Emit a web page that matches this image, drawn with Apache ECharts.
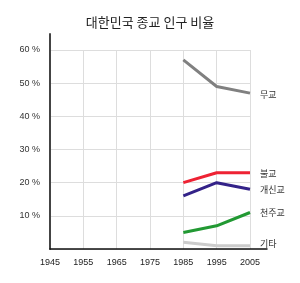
<!DOCTYPE html>
<html><head><meta charset="utf-8">
<script src="https://cdn.jsdelivr.net/npm/echarts@6/dist/echarts.min.js"></script>
<style>html,body{margin:0;padding:0;background:#fff}#c{width:300px;height:283px}</style>
</head><body><div id="c"></div>
<script>
const title = '대한민국 종교 인구 비율';
const years = [1985, 1995, 2005];
const xTicks = [1945, 1955, 1965, 1975, 1985, 1995, 2005];
const yTicks = [10, 20, 30, 40, 50, 60];
const seriesNames = ['무교', '불교', '개신교', '천주교', '기타'];
const noneVals = [57, 49, 47];
const buddhistVals = [20, 23, 23];
const protestantVals = [16, 20, 18];
const catholicVals = [5, 7, 11];
const otherVals = [2, 1, 1];
const colors = ['#808080', '#ee2233', '#332288', '#229933', '#cccccc'];
const allVals = [noneVals, buddhistVals, protestantVals, catholicVals, otherVals];

const chart = echarts.init(document.getElementById('c'), null, {renderer: 'canvas'});
chart.setOption({
  animation: false,
  title: {text: title, left: 'center', top: 11, textStyle: {fontSize: 13, fontWeight: 'normal', color: '#222', fontFamily: 'Noto Sans CJK KR'}},
  grid: [
    {left: 50, right: 33, top: 34, bottom: 34},
    {left: 50, right: 50, top: 50, bottom: 34}
  ],
  xAxis: [
    {gridIndex: 0, type: 'value', min: 1945, max: 2010, axisLine: {show: true, lineStyle: {color: '#111', width: 1.5}}, axisTick: {show: false}, axisLabel: {show: false}, splitLine: {show: false}},
    {gridIndex: 1, type: 'value', min: xTicks[0], max: xTicks[xTicks.length-1], interval: 10,
     axisLine: {show: false}, axisTick: {show: false},
     axisLabel: {color: '#222', fontSize: 9, fontFamily: 'Liberation Sans Narrow, Liberation Sans', margin: 9,
       formatter: v => xTicks.includes(v) ? String(v) : ''},
     splitLine: {show: true, lineStyle: {color: '#dddddd', width: 1}}}
  ],
  yAxis: [
    {gridIndex: 0, type: 'value', min: 0, max: 65, axisLine: {show: true, lineStyle: {color: '#444', width: 2}}, axisTick: {show: false}, axisLabel: {show: false}, splitLine: {show: false}},
    {gridIndex: 1, type: 'value', min: 0, max: yTicks[yTicks.length-1], interval: 10,
     axisLine: {show: false}, axisTick: {show: false},
     axisLabel: {color: '#333', fontSize: 9, fontFamily: 'Liberation Sans Narrow, Liberation Sans', margin: 10,
       formatter: v => yTicks.includes(v) ? v + ' %' : ''},
     splitLine: {show: true, lineStyle: {color: '#dddddd', width: 1}}}
  ],
  series: seriesNames.map((n, i) => ({
    name: n, type: 'line', xAxisIndex: 1, yAxisIndex: 1,
    data: years.map((y, j) => [y, allVals[i][j]]),
    symbol: 'none', lineStyle: {color: colors[i], width: 3}, itemStyle: {color: colors[i]},
    endLabel: {show: true, formatter: n, color: '#333', fontSize: 9, fontFamily: 'Noto Sans CJK KR', distance: 10,
      offset: [0, [1, 1, 0, 0, -2][i]]},
    z: 3
  }))
});
</script></body></html>
